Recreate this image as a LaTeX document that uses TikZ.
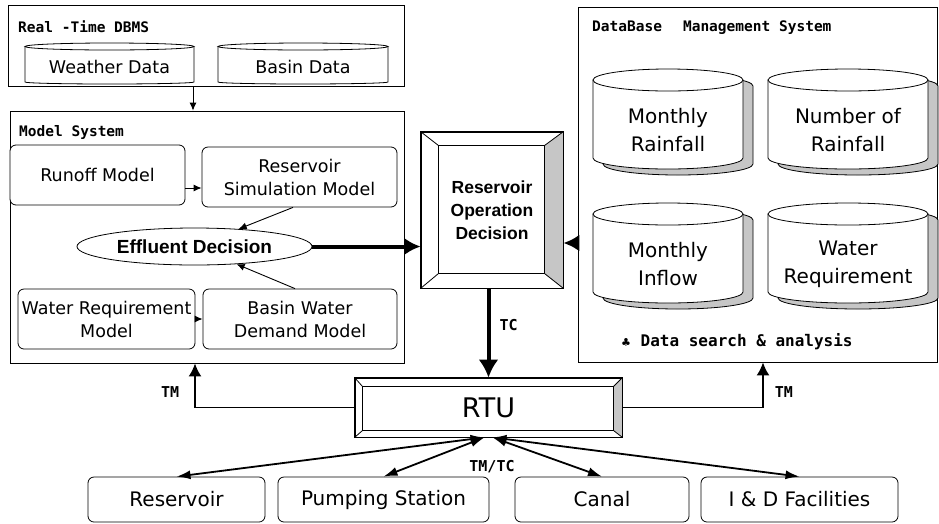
\documentclass[tikz,border=0pt]{standalone}
\usepackage{fontspec}
\setmainfont{DejaVu Sans}
\newfontfamily\monofam{DejaVu Sans Mono}
\newfontfamily\arialfam{Liberation Sans}
\usetikzlibrary{arrows.meta,shapes.geometric}

\begin{document}
\begin{tikzpicture}[x=1pt, y=1pt,
    frame/.style={draw, line width=0.8pt, inner sep=0pt},
    title/.style={anchor=west, inner sep=0pt, font=\monofam\bfseries\fontsize{14.5}{16}\selectfont},
    tag/.style={inner sep=1pt, font=\monofam\bfseries\fontsize{15}{16}\selectfont},
    model/.style={draw, fill=white, line width=0.8pt, rounded corners=6pt, inner sep=0pt, minimum height=60, align=center, font=\fontsize{17.5}{23}\selectfont},
    site/.style={draw, line width=0.8pt, rounded corners=6pt, inner sep=0pt, minimum height=45, font=\fontsize{20}{22}\selectfont},
    drum/.style={inner sep=0pt, align=center, minimum height=78, font=\fontsize{20}{28}\selectfont},
    smalldrum/.style={inner sep=0pt, minimum height=34, font=\fontsize{17.5}{20}\selectfont},
    bevel/.style={draw, fill=white, line width=0.8pt, inner sep=0pt, align=center},
    link/.style={line width=0.9pt, -{Latex[length=8pt, width=7pt]}},
    tmlink/.style={line width=1.8pt, -{Latex[length=13pt, width=13pt]}},
    fatlink/.style={line width=4pt, -{Latex[length=16pt, width=17pt]}},
    fieldlink/.style={line width=1.8pt, {Latex[length=14pt, width=9pt]}-{Latex[length=14pt, width=9pt]}},
    shadow/.style={draw, fill=gray!45, line width=0.8pt}
]
    \useasboundingbox (0,0) rectangle (939,-523);

    \node[frame, minimum width=396, minimum height=81] (rtdb) at (206,-45.5) {};
    \node[title] (rtdbtitle) at (18,-27) {Real -Time DBMS};
    \foreach \n/\cx/\cy/\rx/\txt in {weather/109.5/-67/84.5/Weather Data, basin/303/-67/85/Basin Data} {
        \draw[line width=0.8pt, fill=white] ({\cx-\rx},{\cy+20.5}) -- ({\cx-\rx},{\cy-15}) arc[start angle=180, end angle=360, x radius=\rx, y radius=2] -- ({\cx+\rx},{\cy+20.5});
        \draw[line width=0.8pt, fill=white] (\cx,{\cy+20.5}) ellipse [x radius=\rx, y radius=3.5];
        \node[smalldrum, minimum width=2*\rx] (\n) at (\cx,\cy) {\txt};
    }

    \node[frame, minimum width=394, minimum height=252] (msys) at (207,-237) {};
    \node[title] (msystitle) at (19,-132) {Model System};
    \node[model, minimum width=175] (runoff) at (97.5,-175) {Runoff Model};
    \node[model, minimum width=195] (rsim) at (299.5,-177) {Reservoir\\Simulation Model};
    \node[draw, fill=white, ellipse, line width=0.8pt, inner sep=0pt, minimum width=235, minimum height=37, font=\arialfam\bfseries\fontsize{19}{21}\selectfont] (effl) at (194.5,-246.5) {Effluent Decision};
    \node[model, minimum width=177] (wreqm) at (106.5,-319) {Water Requirement\\Model};
    \node[model, minimum width=194] (bwdm) at (300,-319) {Basin Water\\Demand Model};

    \node[frame, minimum width=359, minimum height=355] (dbms) at (757.5,-184.5) {};
    \node[title] (dbmstitle) at (592,-28) {DataBase\hspace{1.45em}Management System};
    \foreach \n/\cx/\cy/\rx/\txt in {mrain/668/-130/75/{Monthly\\Rainfall}, nrain/848/-130/80/{Number of\\Rainfall}, minfl/668/-264/75/{Monthly\\Inflow}, wreq/848/-264/80/{Water\\Requirement}} {
        \begin{scope}[shift={(10,-6)}]
            \draw[shadow] ({\cx-\rx},{\cy+50}) -- ({\cx-\rx},{\cy-28}) arc[start angle=180, end angle=360, x radius=\rx, y radius=11] -- ({\cx+\rx},{\cy+50}) arc[start angle=0, end angle=180, x radius=\rx, y radius=11] -- cycle;
        \end{scope}
        \draw[line width=0.8pt, fill=white] ({\cx-\rx},{\cy+50}) -- ({\cx-\rx},{\cy-28}) arc[start angle=180, end angle=360, x radius=\rx, y radius=11] -- ({\cx+\rx},{\cy+50}) -- cycle;
        \draw[line width=0.8pt, fill=white] (\cx,{\cy+50}) ellipse [x radius=\rx, y radius=11];
        \node[drum, minimum width=2*\rx] (\n) at (\cx,\cy) {\txt};
    }
    \node[title, font=\monofam\bfseries\fontsize{16}{18}\selectfont] (dsa) at (621,-342) {{\rmfamily\fontsize{11}{12}\selectfont ♣} Data search \& analysis};

    \node[bevel, minimum width=142, minimum height=156, font=\arialfam\bfseries\fontsize{17.5}{23}\selectfont] (rod) at (492,-210) {Reservoir\\Operation\\Decision};
    \coordinate (rodnw) at ([shift={(18,-14)}]rod.north west);
    \coordinate (rodse) at ([shift={(-19,15)}]rod.south east);
    \fill[gray!45] (rod.north east) -- (rod.south east) -- (rodse) -- (rodse |- rodnw) -- cycle;
    \draw[line width=0.8pt] (rod.north west) rectangle (rod.south east) (rodnw) rectangle (rodse);
    \draw[line width=0.8pt] (rod.north west) -- (rodnw) (rod.south west) -- (rodnw |- rodse) (rod.north east) -- (rodse |- rodnw) (rod.south east) -- (rodse);

    \node[bevel, minimum width=267, minimum height=59, font=\fontsize{27}{30}\selectfont] (rtu) at (488.5,-407.5) {RTU};
    \coordinate (rtunw) at ([shift={(8,-9)}]rtu.north west);
    \coordinate (rtuse) at ([shift={(-9,7)}]rtu.south east);
    \fill[gray!45] (rtu.north east) -- (rtu.south east) -- (rtuse) -- (rtuse |- rtunw) -- cycle;
    \draw[line width=0.8pt] (rtu.north west) rectangle (rtu.south east) (rtunw) rectangle (rtuse);
    \draw[line width=0.8pt] (rtu.north west) -- (rtunw) (rtu.south west) -- (rtunw |- rtuse) (rtu.north east) -- (rtuse |- rtunw) (rtu.south east) -- (rtuse);

    \node[site, minimum width=177] (resv) at (176.5,-499.5) {Reservoir};
    \node[site, minimum width=211] (pump) at (383.5,-499.5) {Pumping Station};
    \node[site, minimum width=174] (canal) at (602,-499.5) {Canal};
    \node[site, minimum width=197] (idfac) at (799.5,-499.5) {I \& D Facilities};

    \draw[link] ([xshift=-13pt]rtdb.south) -- ([xshift=-13pt]rtdb.south |- msys.north);
    \draw[link] ([yshift=-13pt]runoff.east) -- ([yshift=-13pt]runoff.east -| rsim.west);
    \draw[link] ([xshift=-6.5pt]rsim.south) -- (effl);
    \draw[link] ([xshift=-5pt]bwdm.north) -- (effl);
    \draw[link] (wreqm.east) -- (bwdm.west);
    \draw[fatlink] (effl.east) -- (effl.east -| rod.west);
    \draw[fatlink] ([yshift=-58.5pt]dbms.west) -- ([yshift=-58.5pt]dbms.west -| rod.east);
    \draw[fatlink, -{Latex[length=18pt, width=20pt]}] (rtu.north |- rod.south) -- (rtu.north) node[tag, pos=0.41, right=8pt] (tc) {TC};
    \draw[tmlink] (rtu.west) -| ([xshift=-12pt]msys.south) node[tag, pos=0.67, left=14pt] (tmleft) {TM};
    \draw[tmlink] (rtu.east) -| ([xshift=5.5pt]dbms.south) node[tag, pos=0.67, right=10pt] (tmright) {TM};
    \foreach \s/\t in {-4/resv.north, -4/pump.north, 4/canal.north, 4/idfac.north}
        \draw[fieldlink] ([xshift=\s pt]rtu.south) -- (\t);
    \node[tag] (tmtc) at (492,-467) {TM/TC};
\end{tikzpicture}
\end{document}
